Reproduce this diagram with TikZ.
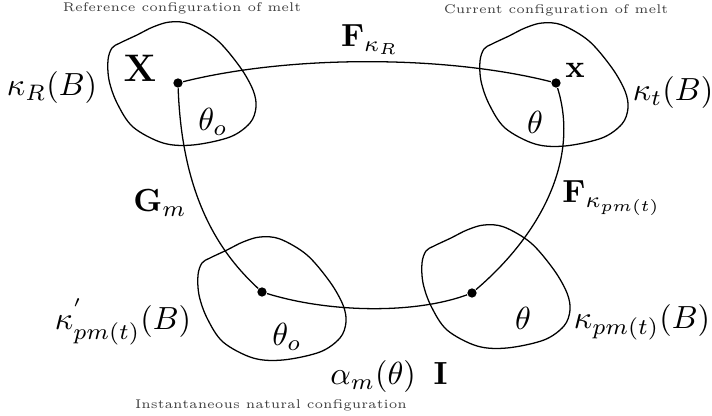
\documentclass[tikz,border=0pt]{standalone}
\usepackage{amsmath}
\begin{document}
\begin{tikzpicture}[x=0.3125pt,y=-0.3125pt, line width=0.4pt,
  dotpt/.style={circle,fill,inner sep=0pt,minimum size=2.9pt},
  lab/.style={inner sep=0pt},
  capt/.style={font=\fontsize{3.95}{4.5}\selectfont, text=black!75, inner sep=0pt}]
\useasboundingbox (0,0) rectangle (712,416);
% bodies
\foreach \ox/\oy in {108/23,480/24,198/238,422/226}
  \draw[shift={(\ox,\oy)}] plot[smooth cycle,tension=0.55] coordinates {
    (0,37) (4,25) (12,20) (29,12) (45,4) (62,-1) (82,1) (109,17) (132,44)
    (145,67) (148,84) (142,100) (122,114) (85,122) (55,120) (25,104) (9,80) (1,57)};
% material points
\node[dotpt] (a) at (178,83) {};
\node[dotpt] (b) at (556,83) {};
\node[dotpt] (c) at (262,292) {};
\node[dotpt] (d) at (472,293) {};
% mappings
\draw (a) .. controls (290,55) and (445,55) .. (b);
\draw (a) .. controls (182,200) and (222,255) .. (c);
\draw (c) .. controls (330,313) and (415,314) .. (d);
\draw (d) .. controls (540,235) and (580,160) .. (b);
% captions
\node[capt] (cr) at (182,8) {Reference configuration of melt};
\node[capt] (cc) at (556,10) {Current configuration of melt};
\node[capt] (ci) at (271,405) {Instantaneous natural configuration};
% labels
\node[lab] (kR) at (52,88) {$\kappa_R(B)$};
\node[lab] (X) at (140,68) {\large$\mathbf{X}$};
\node[lab] (th1) at (213,122) {$\theta_o$};
\node[lab] (x) at (575,70) {$\mathbf{x}$};
\node[lab] (th2) at (535,122) {$\theta$};
\node[lab] (kt) at (673,93) {$\kappa_t(B)$};
\node[lab] (F1) at (370,40) {$\mathbf{F}_{\kappa_R}$};
\node[lab] (G) at (160,203) {$\mathbf{G}_m$};
\node[lab] (F2) at (612,198) {$\mathbf{F}_{\kappa_{pm(t)}}$};
\node[lab] (kp1) at (123,322) {$\kappa^{'}_{pm(t)}(B)$};
\node[lab] (th3) at (287,337) {$\theta_o$};
\node[lab] (th4) at (523,318) {$\theta$};
\node[lab] (kp2) at (642,322) {$\kappa_{pm(t)}(B)$};
\node[lab] (al) at (389,377) {$\alpha_m(\theta)\;\;\mathbf{I}$};
\end{tikzpicture}
\end{document}
